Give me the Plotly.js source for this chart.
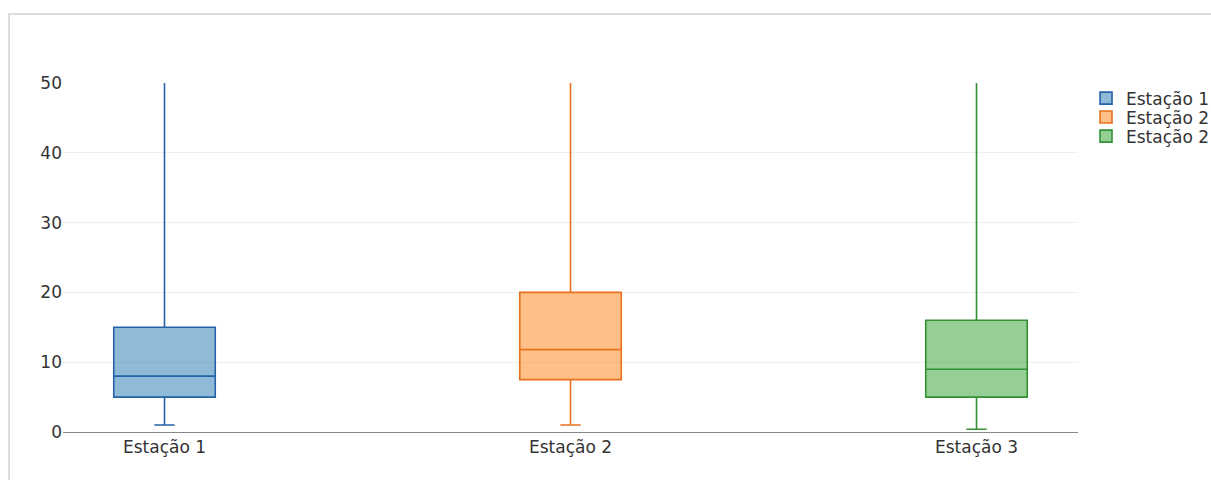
<!DOCTYPE html>
<html>
<head>
<meta charset="utf-8">
<script src="https://cdn.plot.ly/plotly-3.0.1.min.js"></script>
<style>
html,body{margin:0;padding:0;background:#fff;overflow:hidden;}
#frame{position:absolute;left:8px;top:13px;width:1400px;height:700px;border:2px solid #ddd;box-sizing:border-box;}
#chart{position:absolute;left:0;top:0;width:1211px;height:480px;}
</style>
</head>
<body>
<div id="frame"></div>
<div id="chart"></div>
<script>
const categories = ['Estação 1', 'Estação 2', 'Estação 3'];
const traceNames = ['Estação 1', 'Estação 2', 'Estação 2'];
const colors = ['#1f77b4', '#ff7f0e', '#2ca02c'];
const lineColors = ['#2563a8', '#e8701f', '#349034'];
const q1Values = [5, 7.5, 5];
const medianValues = [8, 11.8, 9];
const q3Values = [15, 20, 16];
const lowerValues = [1, 1, 0.4];
const upperValues = [55, 55, 55];
const yTicks = [0, 10, 20, 30, 40, 50];

const font = {family: 'DejaVu Sans, Verdana, sans-serif', size: 17, color: '#333'};
const legendIds = ['legend', 'legend2', 'legend3'];

const data = categories.map((c, i) => ({
  type: 'box',
  name: traceNames[i],
  legend: legendIds[i],
  x: [c],
  q1: [q1Values[i]],
  median: [medianValues[i]],
  q3: [q3Values[i]],
  lowerfence: [lowerValues[i]],
  upperfence: [upperValues[i]],
  width: 0.25,
  whiskerwidth: 0.2,
  fillcolor: colors[i] + '80',
  line: {color: lineColors[i], width: 1.6},
  boxpoints: false
}));

const layout = {
  width: 1211, height: 480,
  margin: {l: 63, r: 133, t: 83, b: 48, autoexpand: false},
  paper_bgcolor: 'rgba(0,0,0,0)',
  plot_bgcolor: 'rgba(0,0,0,0)',
  font: font,
  showlegend: true,
  boxmode: 'overlay',
  xaxis: {
    type: 'category', categoryorder: 'array', categoryarray: categories,
    range: [-0.25, 2.25], showgrid: false, zeroline: false,
    showline: true, linecolor: '#888', linewidth: 1, ticks: '', tickfont: font
  },
  yaxis: {
    range: [0, 50], tickvals: yTicks, ticktext: yTicks.map(String),
    showgrid: true, gridcolor: '#eee', zeroline: false, showline: false,
    ticks: '', tickfont: font
  }
};
const legendY = [1.007, 0.953, 0.898];
legendIds.forEach((id, i) => {
  layout[id] = {x: 1.0079, xanchor: 'left', y: legendY[i], yanchor: 'top', font: font, bgcolor: 'rgba(0,0,0,0)'};
});

Plotly.newPlot('chart', data, layout, {displayModeBar: false, staticPlot: true});
</script>
</body>
</html>
